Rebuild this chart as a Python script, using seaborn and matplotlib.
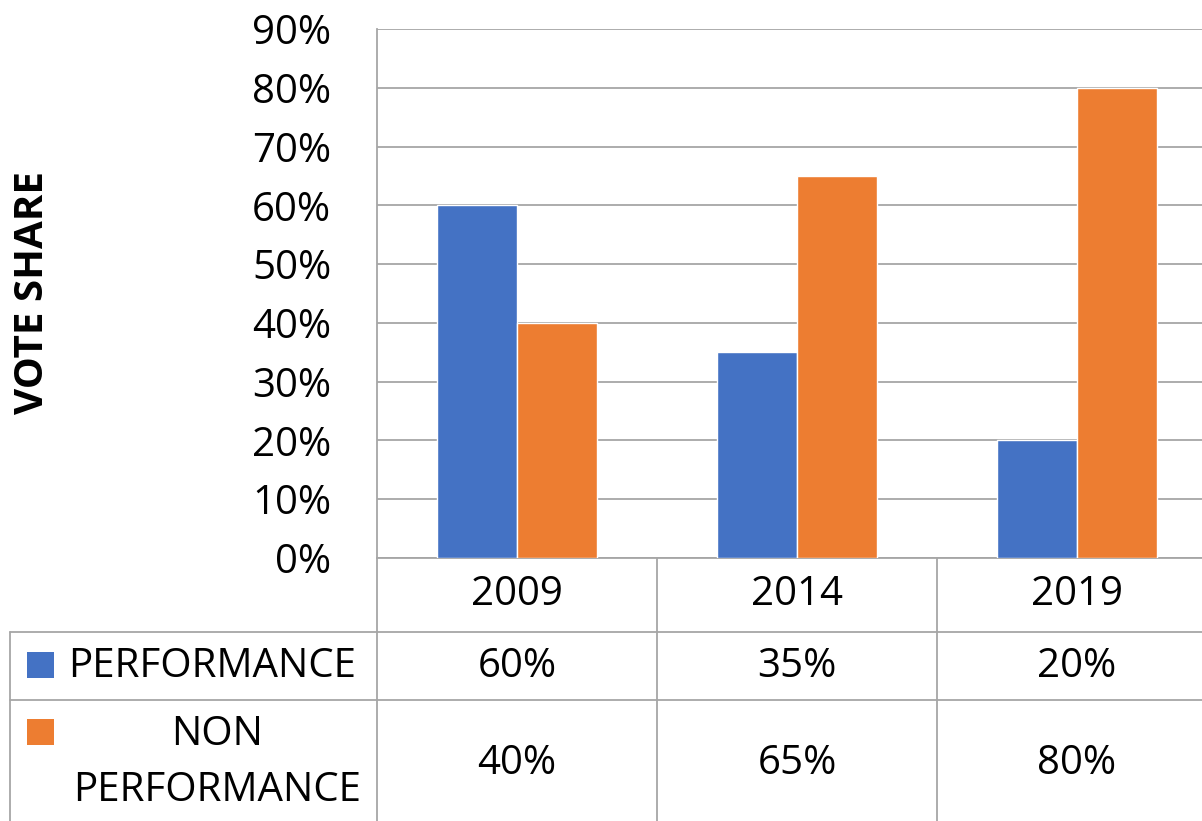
import pandas as pd
import numpy as np
import matplotlib.pyplot as plt
import seaborn as sns

# data
years = ['2009', '2014', '2019']
series = ['PERFORMANCE', 'NON\nPERFORMANCE']
performance = [0.60, 0.35, 0.20]
non_performance = [0.40, 0.65, 0.80]
colors = ['#4472C4', '#ED7D31']

df = pd.DataFrame({
    'year': years * 2,
    'series': [series[0]] * 3 + [series[1]] * 3,
    'share': performance + non_performance,
})

sns.set_theme(style='white')
plt.rcParams['font.family'] = ['Open Sans', 'DejaVu Sans']
plt.rcParams['text.color'] = 'black'
plt.rcParams['ytick.color'] = 'black'

FS = 29
W, H = 1202, 821
fig = plt.figure(figsize=(W / 100, H / 100), dpi=100)

# plot area (pixels in reference): x 377 .. 1217, y 29 .. 558
px0, px1, py0, py1 = 377, 1217, 29, 558
ax = fig.add_axes([px0 / W, (H - py1) / H, (px1 - px0) / W, (py1 - py0) / H])
sns.barplot(data=df, x='year', y='share', hue='series', palette=colors,
            width=0.572, gap=0, saturation=1, ax=ax, legend=False, zorder=3)
ax.set_xlim(-0.5, 2.5)
ax.set_ylim(0, 0.9)
ax.set_yticks(np.arange(0, 0.91, 0.1))
ax.set_yticklabels([f'{int(round(v * 100))}%' for v in np.arange(0, 0.91, 0.1)],
                   fontsize=FS)
ax.tick_params(axis='y', length=0, pad=33)
ax.set_xticks([])
ax.set_xlabel('')
ax.set_ylabel('')
ax.yaxis.grid(True, color='#A6A6A6', linewidth=1.3)
ax.set_axisbelow(True)
for s in ['top', 'right']:
    ax.spines[s].set_visible(False)
ax.spines['left'].set_color('#A6A6A6')
ax.spines['left'].set_linewidth(1.3)
ax.spines['bottom'].set_color('#A6A6A6')
ax.spines['bottom'].set_linewidth(1.3)

fig.text(33 / W, 1 - 292 / H, 'VOTE SHARE', rotation=90, ha='center', va='center',
         fontsize=29, fontweight='bold')

# data table below the plot
tx0 = 10
lab_w = (px0 - tx0) / 280.0
tab = fig.add_axes([tx0 / W, 0, (px1 - tx0) / W, (H - py1) / H])
tab.set_xlim(-0.5 - lab_w, 2.5)
tab.set_ylim(H - py1, 0)
tab.axis('off')
lc = '#A6A6A6'
r1, r2 = 632 - py1, 700 - py1
bottom = H - py1
xl = -0.5 - lab_w
tab.plot([xl, 2.5], [r1, r1], color=lc, lw=1.3, clip_on=False)
tab.plot([xl, 2.5], [r2, r2], color=lc, lw=1.3, clip_on=False)
tab.plot([xl, xl], [r1, bottom], color=lc, lw=1.3, clip_on=False)
for i in range(len(years)):
    tab.plot([i - 0.5, i - 0.5], [0, bottom], color=lc, lw=1.3)
    tab.text(i, 595 - py1, years[i], ha='center', va='center', fontsize=FS)
    tab.text(i, 667 - py1, f'{int(round(performance[i] * 100))}%',
             ha='center', va='center', fontsize=FS)
    tab.text(i, 764 - py1, f'{int(round(non_performance[i] * 100))}%',
             ha='center', va='center', fontsize=FS)

# legend keys and row labels
sq = 27 / 280.0
key_x = xl + 17 / 280.0
for k, yc in enumerate([665 - py1, 732 - py1]):
    tab.add_patch(plt.Rectangle((key_x, yc - 13), sq, 26, color=colors[k], lw=0))
tab.text(xl + 58 / 280.0, 667 - py1, series[0], ha='left', va='center', fontsize=FS)
tab.text(xl + 207 / 280.0, 763 - py1, series[1], ha='center', va='center',
         fontsize=FS, linespacing=1.5, multialignment='center')

fig.savefig('out.png', dpi=100)
